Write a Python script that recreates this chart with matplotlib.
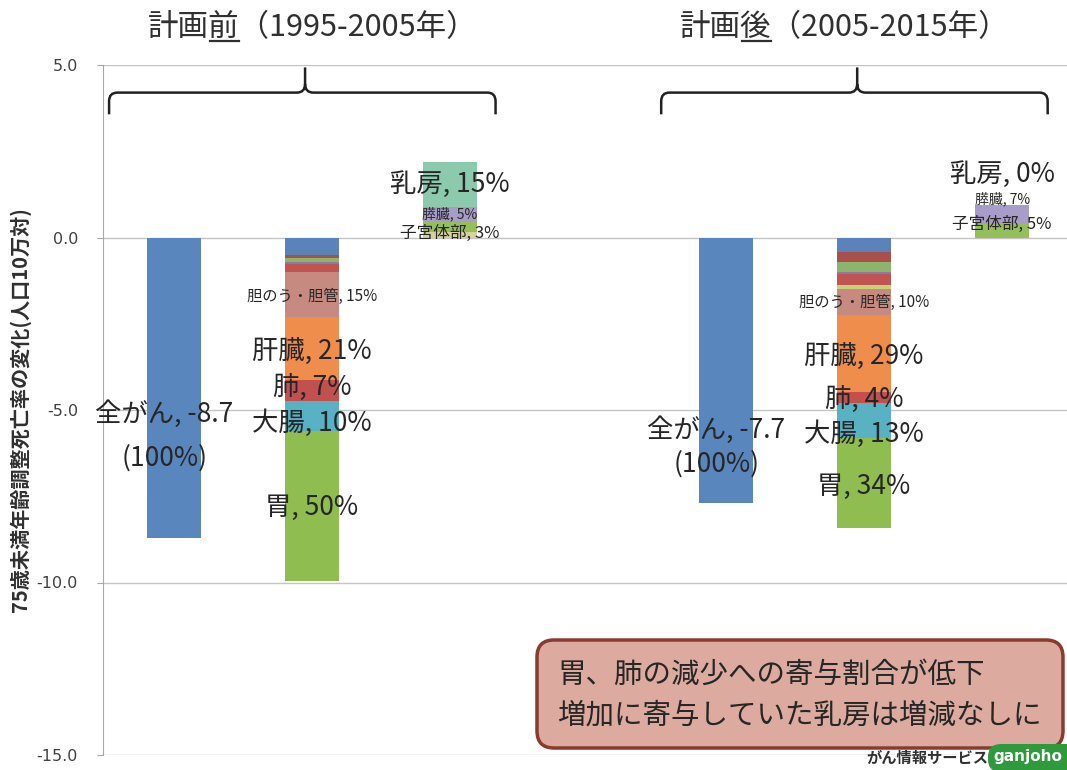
import matplotlib
matplotlib.use('Agg')
import matplotlib.pyplot as plt
from matplotlib.path import Path
from matplotlib.patches import PathPatch, FancyBboxPatch
from matplotlib.lines import Line2D
from matplotlib.ticker import FuncFormatter

plt.rcParams['font.family'] = ['Noto Sans CJK JP', 'DejaVu Sans']

# --- data ---
periods = ['計画前', '計画後']
period_years = ['（1995-2005年）', '（2005-2015年）']
all_cancer = [-8.7, -7.7]

# decreasing sites, stacked from 0 downwards (unlabelled small sites first)
dec_sites = ['other1', 'other2', 'other3', 'other4', 'other5', 'other6',
             '胆のう・胆管', '肝臓', '肺', '大腸', '胃']
dec_before = [-0.50, -0.10, -0.12, -0.06, -0.22, 0.0, -1.30, -1.83, -0.61, -0.87, -4.35]
dec_after = [-0.43, -0.29, -0.29, -0.06, -0.32, -0.10, -0.77, -2.23, -0.31, -1.00, -2.62]
dec_pct_before = [None, None, None, None, None, None, 15, 21, 7, 10, 50]
dec_pct_after = [None, None, None, None, None, None, 10, 29, 4, 13, 34]

# increasing sites, stacked from 0 upwards
inc_sites = ['other', '子宮体部', '膵臓', '乳房']
inc_before = [0.17, 0.29, 0.43, 1.30]
inc_after = [0.0, 0.39, 0.54, 0.0]
inc_pct_before = [None, 3, 5, 15]
inc_pct_after = [None, 5, 7, 0]

ytick_values = [-15, -10, -5, 0, 5]

note_lines = ['胃、肺の減少への寄与割合が低下', '増加に寄与していた乳房は増減なしに']
ylabel = '75歳未満年齢調整死亡率の変化(人口10万対)'

# --- styling / layout ---
W, H = 1067, 770
all_color = '#5a86be'
dec_colors = ['#5b83ba', '#a9504c', '#8cb56a', '#8a78a8', '#c05450', '#c9d07a',
              '#c68a80', '#ef8d4c', '#c2504f', '#58b2c4', '#8fbd50']
inc_colors = ['#d8d29a', '#95bf5a', '#a89cc8', '#8ccaae']
label_size = {'胆のう・胆管': 11, '肝臓': 19, '肺': 19, '大腸': 19, '胃': 19,
              '乳房': 19, '膵臓': 10, '子宮体部': 12}
nudge = [
    {'胆のう・胆管': -0.06, '肝臓': -0.1, '肺': 0.09, '大腸': -0.22, '胃': -0.05,
     '乳房': 0.0, '膵臓': 0.0, '子宮体部': -0.19},
    {'胆のう・胆管': 0.0, '肝臓': -0.07, '肺': -0.05, '大腸': -0.4, '胃': -0.1,
     '乳房': 0.9, '膵臓': 0.47, '子宮体部': 0.19},
]
group_x = [[0, 1, 2], [4, 5, 6]]
all_label_y = [(-5.13, -6.38), (-5.57, -6.58)]
width = 0.39
text_color = '#262626'

fig = plt.figure(figsize=(W / 100, H / 100), dpi=100)
ax = fig.add_axes([103 / W, 15 / H, (W - 103) / W, 690 / H])

dec_vals = [dec_before, dec_after]
dec_pcts = [dec_pct_before, dec_pct_after]
inc_vals = [inc_before, inc_after]
inc_pcts = [inc_pct_before, inc_pct_after]

for g in range(2):
    x_all, x_dec, x_inc = group_x[g]
    ax.bar(x_all, all_cancer[g], width, color=all_color, zorder=2)
    y1, y2 = all_label_y[g]
    ax.text(x_all - 0.07, y1, f'全がん, {all_cancer[g]}', ha='center', va='center',
            fontsize=19, color=text_color, zorder=4)
    ax.text(x_all - 0.07, y2, '(100%)', ha='center', va='center',
            fontsize=19, color=text_color, zorder=4)

    bottom = 0.0
    for site, v, c, pct in zip(dec_sites, dec_vals[g], dec_colors, dec_pcts[g]):
        ax.bar(x_dec, v, width, bottom=bottom, color=c, zorder=2)
        if pct is not None:
            yc = bottom + v / 2 + nudge[g].get(site, 0)
            ax.text(x_dec, yc, f'{site}, {pct}%', ha='center', va='center',
                    fontsize=label_size[site], color=text_color, zorder=4)
        bottom += v

    bottom = 0.0
    for site, v, c, pct in zip(inc_sites, inc_vals[g], inc_colors, inc_pcts[g]):
        ax.bar(x_inc, v, width, bottom=bottom, color=c, zorder=2)
        if pct is not None:
            yc = bottom + v / 2 + nudge[g].get(site, 0)
            ax.text(x_inc, yc, f'{site}, {pct}%', ha='center', va='center',
                    fontsize=label_size[site], color=text_color, zorder=4)
        bottom += v

    # curly brace over the group
    xl, xc, xr = group_x[g][0] - 0.47, group_x[g][1] - 0.05, group_x[g][2] + 0.33
    yb, ym, yt = 3.57, 4.2, 4.93
    rx, ry = 0.06, 0.25
    verts = [(xl, yb), (xl, ym - ry), (xl, ym), (xl + rx, ym), (xc - rx, ym),
             (xc, ym), (xc, ym + ry), (xc, yt),
             (xc, ym + ry), (xc, ym), (xc + rx, ym), (xr - rx, ym),
             (xr, ym), (xr, ym - ry), (xr, yb)]
    codes = [Path.MOVETO, Path.LINETO, Path.CURVE3, Path.CURVE3, Path.LINETO,
             Path.CURVE3, Path.CURVE3, Path.LINETO,
             Path.MOVETO, Path.CURVE3, Path.CURVE3, Path.LINETO,
             Path.CURVE3, Path.CURVE3, Path.LINETO]
    ax.add_patch(PathPatch(Path(verts, codes), fill=False, lw=1.8,
                           edgecolor='#222222', zorder=3, clip_on=False))

ax.set_xlim(-0.514, 6.47)
ax.set_ylim(-15, 5)
ax.set_yticks(ytick_values)
ax.yaxis.set_major_formatter(FuncFormatter(lambda v, p: f'{v:.1f}'.replace('\u2212', '-')))
ax.set_xticks([])
ax.grid(axis='y', color='#c4c4c4', lw=1, zorder=0)
for s in ['top', 'right', 'bottom']:
    ax.spines[s].set_visible(False)
ax.spines['left'].set_color('#a8a8a8')
ax.tick_params(axis='y', length=4, color='#a8a8a8', labelsize=11.5,
               labelcolor='#404040', pad=14, labelfontfamily='DejaVu Sans')

fig.text(20 / W, 1 - 410 / H, ylabel, rotation=90, ha='center', va='center',
         fontsize=14.5, fontweight='bold', color='#303030')

# group titles with underlined first word-part
fig.canvas.draw()
renderer = fig.canvas.get_renderer()
title_cx = [313, 845]
for g in range(2):
    full = periods[g] + period_years[g]
    t = fig.text(title_cx[g] / W, 1 - 28 / H, full, ha='center', va='center',
                 fontsize=22, color='#303030')
    bb = t.get_window_extent(renderer)
    tmp = fig.text(0, 0, periods[g][:2], fontsize=22)
    w1 = tmp.get_window_extent(renderer).width
    tmp.set_text(periods[g])
    w2 = tmp.get_window_extent(renderer).width
    tmp.remove()
    yline = bb.y0 + 3
    fig.add_artist(Line2D([(bb.x0 + w1 + 1) / W, (bb.x0 + w2 - 1) / W],
                          [yline / H, yline / H], color='#303030', lw=1.6))

# note box
box = FancyBboxPatch((537 / W, 1 - 748 / H), (1063 - 537) / W, 108 / H,
                     boxstyle='round,pad=0,rounding_size=0.016',
                     mutation_aspect=W / H, transform=fig.transFigure,
                     facecolor='#dcaa9e', edgecolor='#8b3a30', lw=2.5, zorder=5)
fig.add_artist(box)
fig.text(557 / W, 1 - 675 / H, note_lines[0], fontsize=20.5, color='#262626',
         va='center', ha='left', zorder=6)
fig.text(557 / W, 1 - 716 / H, note_lines[1], fontsize=20.5, color='#262626',
         va='center', ha='left', zorder=6)

# footer logo
fig.text(866 / W, 1 - 758 / H, 'がん情報サービス', fontsize=11, fontweight='bold',
         color='#303030', va='center', ha='left')
logo = FancyBboxPatch((988 / W, 1 - 772 / H), 100 / W, 28 / H,
                      boxstyle='round,pad=0,rounding_size=0.012',
                      mutation_aspect=W / H, transform=fig.transFigure,
                      facecolor='#2f9a3c', edgecolor='none', zorder=5)
fig.add_artist(logo)
fig.text(993 / W, 1 - 757 / H, 'ganjoho', fontsize=11, fontweight='bold',
         color='white', va='center', ha='left', family='DejaVu Sans', zorder=6)

fig.savefig('out.png', dpi=100)
